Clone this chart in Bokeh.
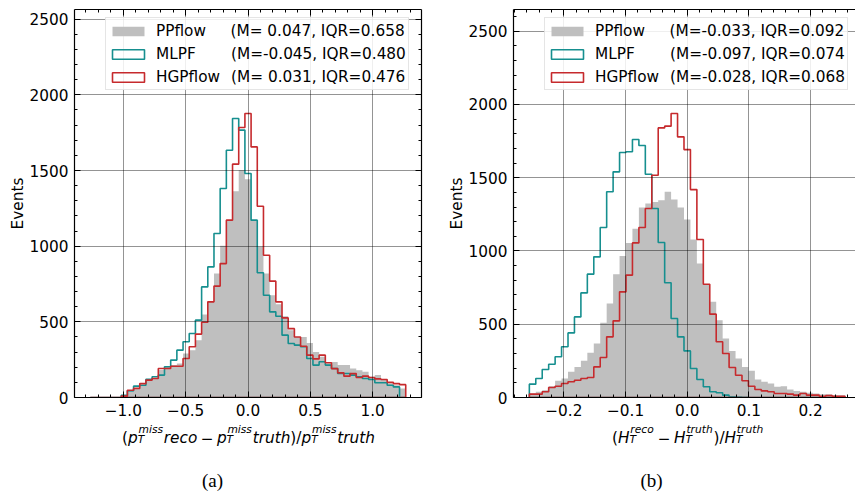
import numpy as np
from bokeh.plotting import figure
from bokeh.layouts import row, column
from bokeh.models import (LinearAxis, SingleIntervalTicker, CustomJSTickFormatter,
                          Legend, LegendItem, Label, Range1d)
from bokeh.embed import file_html
from bokeh.resources import INLINE

# ---------------- data ----------------
met_bin_range = (-1.265, 1.265)   # 51 bins
met_ppflow = [0, 0, 0, 0, 0, 15, 37, 60, 81, 115, 126, 181, 203, 214, 225, 291, 313, 379,
              548, 632, 819, 1002, 1172, 1363, 1502, 1443, 1172, 996, 819, 676, 617, 537,
              445, 400, 400, 360, 300, 270, 225, 235, 214, 214, 192, 180, 170, 137, 148,
              115, 92, 81, 60]
met_mlpf = [0, 0, 0, 0, 0, 15, 44, 75, 81, 121, 137, 148, 203, 247, 313, 368, 423, 511,
            731, 863, 1084, 1381, 1634, 1844, 1767, 1480, 1172, 824, 676, 566, 537, 412,
            357, 346, 335, 258, 214, 236, 214, 192, 159, 159, 148, 137, 126, 119, 97, 97,
            81, 70, 0]
met_hgpflow = [0, 0, 0, 0, 0, 9, 48, 60, 92, 115, 126, 192, 192, 207, 207, 258, 335, 419,
               497, 632, 736, 885, 1172, 1542, 1784, 1877, 1656, 1264, 940, 769, 632, 526,
               455, 400, 339, 280, 255, 280, 230, 191, 163, 141, 158, 132, 141, 132, 123,
               119, 100, 92, 85]

ht_bin_range = (-0.256, 0.256)    # 49 bins
ht_ppflow = [27, 39, 50, 77, 114, 130, 175, 209, 250, 305, 369, 510, 641, 842, 965, 1055,
             1151, 1297, 1324, 1335, 1347, 1404, 1351, 1297, 1215, 1078, 914, 767, 653, 528,
             403, 318, 266, 209, 182, 123, 107, 96, 73, 77, 55, 45, 39, 32, 27, 23, 23, 16, 16]
ht_mlpf = [91, 130, 191, 227, 278, 346, 441, 550, 714, 842, 960, 1160, 1404, 1540, 1672,
           1677, 1761, 1720, 1524, 1290, 1058, 783, 539, 414, 318, 198, 123, 73, 39, 32, 16,
           5, 3, 2, 0, 0, 0, 0, 0, 0, 0, 0, 0, 0, 0, 0, 0, 0, 0]
ht_hgpflow = [23, 23, 39, 68, 77, 96, 107, 118, 130, 136, 209, 273, 414, 523, 721, 835,
              1055, 1160, 1290, 1517, 1840, 1852, 1938, 1779, 1692, 1419, 1078, 773, 569,
              380, 300, 205, 152, 114, 77, 55, 45, 39, 27, 27, 23, 16, 27, 16, 16, 9, 14, 9, 9]

series_names = ["PPflow", "MLPF", "HGPflow"]
met_stats = ["(M= 0.047, IQR=0.658", "(M=-0.045, IQR=0.480", "(M= 0.031, IQR=0.476"]
ht_stats = ["(M=-0.033, IQR=0.092", "(M=-0.097, IQR=0.074", "(M=-0.028, IQR=0.068"]
y_label = "Events"
captions = ["(a)", "(b)"]

# ---------------- style ----------------
FONT = "DejaVu Sans"
FS = 15.3
SS = 10.7
GRAY = "#bfbfbf"
TEAL = "#168f8f"
RED = "#c62a2d"
NAME_PAD = ["\u00a0" * 4 + "\u2006" * 2, "\u00a0" * 6 + "\u2009" * 2, "\u00a0" + "\u2009" * 2]

ADV = {'(': .390, ')': .390, '/': .337, '\u2212': .838, ' ': .318, 'p': .635, 'T': .611,
       'm': .974, 'i': .278, 's': .521, 'r': .411, 'e': .615, 'c': .550, 'o': .612,
       't': .392, 'u': .634, 'h': .634, 'H': .752}


def tw(s, size):
    return sum(ADV[c] for c in s) * size


def step_xy(rng, counts):
    edges = np.linspace(rng[0], rng[1], len(counts) + 1)
    xs, ys = [edges[0]], [0.0]
    for i, c in enumerate(counts):
        xs += [edges[i], edges[i + 1]]
        ys += [c, c]
    xs.append(edges[-1])
    ys.append(0.0)
    return xs, ys


def style_axis(ax, labels=True):
    ax.axis_line_color = "black"
    ax.axis_line_width = 1.2
    ax.major_tick_in = 6
    ax.major_tick_out = 0
    ax.minor_tick_in = 3
    ax.minor_tick_out = 0
    ax.major_tick_line_color = "black"
    ax.minor_tick_line_color = "black"
    ax.major_tick_line_width = 1
    ax.minor_tick_line_width = 1
    if labels:
        ax.major_label_text_font = FONT
        ax.major_label_text_font_size = f"{FS}px"
        ax.major_label_text_color = "black"
        ax.major_label_standoff = 6
    else:
        ax.formatter = CustomJSTickFormatter(code="return '';")
        ax.major_label_text_font_size = "1px"
        ax.major_label_standoff = 0


def math_label(p, tokens, cx, y0):
    widths = []
    for t in tokens:
        kind = t[0]
        if kind in ("u", "i"):
            widths.append(tw(t[1], FS))
        elif kind == "b":
            widths.append(tw(t[1], FS) + 6.8)
        else:
            widths.append(max(tw(t[1], SS), tw(t[2], SS)) + 1.5)
    x = cx - sum(widths) / 2
    common = dict(x_units="screen", y_units="screen", text_font=FONT,
                  text_color="black", text_align="left", text_baseline="alphabetic")
    for t, w in zip(tokens, widths):
        kind = t[0]
        if kind in ("u", "i", "b"):
            dx = 3.4 if kind == "b" else 0
            p.add_layout(Label(x=x + dx, y=y0, text=t[1], text_font_size=f"{FS}px",
                               text_font_style="italic" if kind == "i" else "normal", **common))
        else:
            p.add_layout(Label(x=x + 0.8, y=y0 + 8.0, text=t[1], text_font_size=f"{SS}px",
                               text_font_style="italic", **common))
            p.add_layout(Label(x=x, y=y0 - 1.5, text=t[2], text_font_size=f"{SS}px",
                               text_font_style="italic", **common))
        x += w


def make_panel(width, border_l, border_r, xr, yr, x_interval, rng, data, stats,
               tokens, label_cx, caption, caption_cx, mirror_right):
    p = figure(width=width, height=422, x_range=Range1d(*xr), y_range=Range1d(*yr),
               output_backend="svg", toolbar_location=None,
               min_border_left=border_l, min_border_right=border_r,
               min_border_top=9, min_border_bottom=25,
               background_fill_color="white", border_fill_color="white")
    p.outline_line_color = None
    xt = SingleIntervalTicker(interval=x_interval, num_minor_ticks=5)
    yt = SingleIntervalTicker(interval=500, num_minor_ticks=5)
    p.xaxis.ticker = xt
    p.yaxis.ticker = yt
    p.xaxis.formatter = CustomJSTickFormatter(
        code="if (Math.abs(tick) < 1e-9) { return '0.0'; } return tick.toFixed(1).replace('-', '\\u2212');")
    for ax in p.xaxis:
        style_axis(ax)
    for ax in p.yaxis:
        style_axis(ax)
        ax.axis_label = y_label
        ax.axis_label_text_font = FONT
        ax.axis_label_text_font_size = f"{FS}px"
        ax.axis_label_text_font_style = "normal"
        ax.axis_label_text_color = "black"
        ax.axis_label_standoff = 0
    top = LinearAxis(ticker=xt)
    style_axis(top, labels=False)
    p.add_layout(top, "above")
    if mirror_right:
        rt = LinearAxis(ticker=yt)
        style_axis(rt, labels=False)
        p.add_layout(rt, "right")

    p.xgrid.ticker = xt
    p.ygrid.ticker = yt
    for g in (p.xgrid, p.ygrid):
        g.grid_line_color = "black"
        g.grid_line_alpha = 0.42
        g.grid_line_width = 1
        g.level = "guide"

    xs, ys = step_xy(rng, data[0])
    r0 = p.patch(xs, ys, fill_color=GRAY, line_color=None)
    xs, ys = step_xy(rng, data[1])
    r1 = p.patch(xs, ys, fill_color=None, line_color=TEAL, line_width=1.6)
    xs, ys = step_xy(rng, data[2])
    r2 = p.patch(xs, ys, fill_color=None, line_color=RED, line_width=1.6)

    items = [LegendItem(label=series_names[i] + NAME_PAD[i] + stats[i], renderers=[r])
             for i, r in enumerate([r0, r1, r2])]
    leg = Legend(items=items, location=(31, 307), padding=2, spacing=2,
                 label_height=21, glyph_height=12, glyph_width=40, label_standoff=8,
                 label_text_font=FONT, label_text_font_size=f"{FS}px",
                 label_text_color="black",
                 border_line_color="#cccccc", border_line_width=1,
                 background_fill_color="white", background_fill_alpha=0.85)
    p.add_layout(leg)

    # label strip below the panel (same horizontal frame as the panel)
    q = figure(width=width, height=71, x_range=Range1d(0, 1), y_range=Range1d(0, 1),
               output_backend="svg", toolbar_location=None,
               x_axis_type=None, y_axis_type=None, title=None,
               min_border_left=border_l, min_border_right=border_r,
               min_border_top=0, min_border_bottom=0,
               background_fill_color="white", border_fill_color="white")
    q.outline_line_color = None
    q.xgrid.visible = False
    q.ygrid.visible = False
    if hasattr(p, "frame_align"):
        p.frame_align = False
        q.frame_align = False
    math_label(q, tokens, label_cx - border_l, 56)
    q.add_layout(Label(x=caption_cx - border_l, y=13, x_units="screen", y_units="screen",
                       text=caption, text_font="Liberation Serif", text_font_size="19px",
                       text_align="center", text_baseline="alphabetic", text_color="black"))
    return column(p, q, spacing=0)


met_tokens = [("u", "("), ("i", "p"), ("s", "miss", "T"), ("i", "reco"), ("b", "\u2212"),
              ("i", "p"), ("s", "miss", "T"), ("i", "truth"), ("u", ")"), ("u", "/"),
              ("i", "p"), ("s", "miss", "T"), ("i", "truth")]
ht_tokens = [("u", "("), ("i", "H"), ("s", "reco", "T"), ("b", "\u2212"),
             ("i", "H"), ("s", "truth", "T"), ("u", ")"), ("u", "/"),
             ("i", "H"), ("s", "truth", "T")]

left = make_panel(440, 74, 19, (-1.3915, 1.3915), (0, 2564), 0.5, met_bin_range,
                  [met_ppflow, met_mlpf, met_hgpflow], met_stats, met_tokens,
                  248, captions[0], 212, True)
right = make_panel(415, 73, 0, (-0.2817, 0.2729), (0, 2648), 0.1, ht_bin_range,
                   [ht_ppflow, ht_mlpf, ht_hgpflow], ht_stats, ht_tokens,
                   247.5, captions[1], 211, False)

layout = row(left, right, spacing=0)
open("out.html", "w").write(file_html(layout, INLINE))
